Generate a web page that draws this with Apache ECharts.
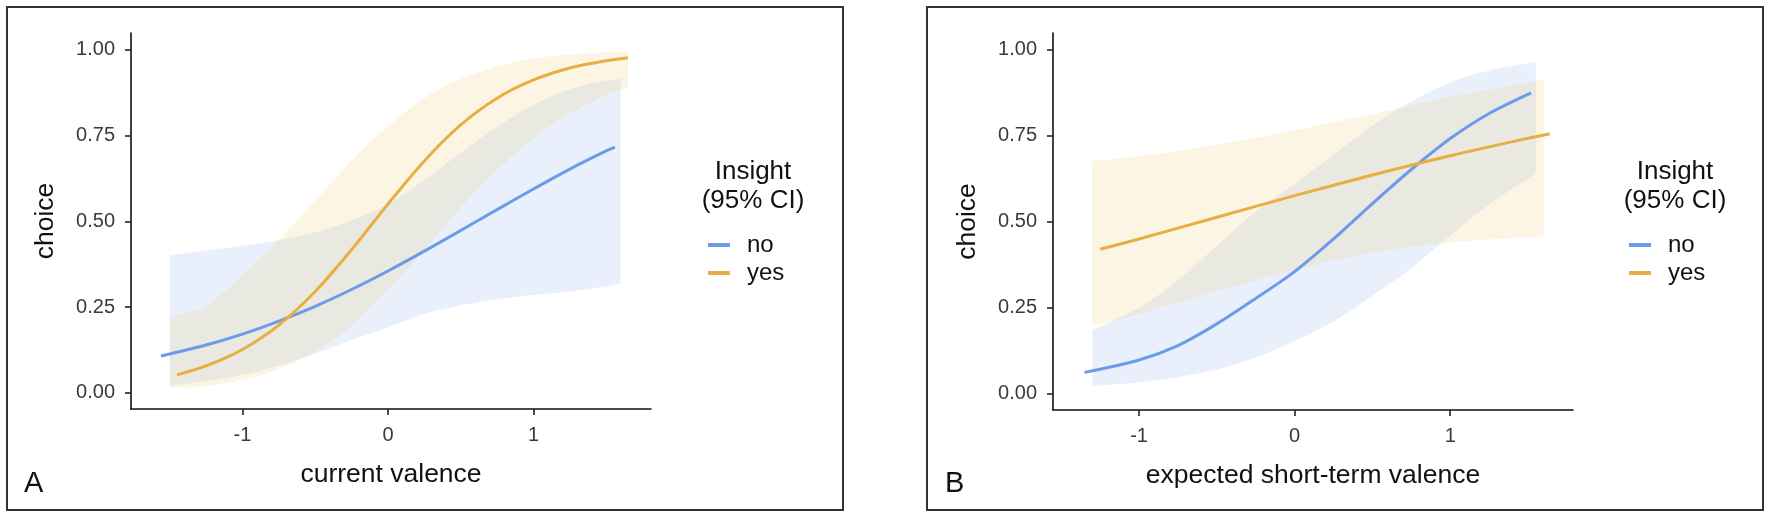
<!DOCTYPE html>
<html>
<head>
<meta charset="utf-8">
<script src="https://cdn.jsdelivr.net/npm/echarts@6/dist/echarts.min.js"></script>
<style>
html,body{margin:0;padding:0;background:#fff;}
#chart{width:1772px;height:518px;}
</style>
</head>
<body>
<div id="chart"></div>
<script>
// ---------- data ----------
var xTicks = [-1, 0, 1];
var yTicks = [0, 0.25, 0.5, 0.75, 1];
var legendItems = ['no', 'yes'];

// Panel A: current valence
var aNoLine = [[-1.56,0.107],[-1.25,0.139],[-1.0,0.171],[-0.75,0.209],[-0.5,0.252],[-0.25,0.301],[0,0.355],[0.25,0.413],[0.5,0.473],[0.75,0.534],[1.0,0.594],[1.25,0.652],[1.5,0.705],[1.56,0.716]];
var aYesLine = [[-1.45,0.052],[-1.25,0.078],[-1.0,0.126],[-0.75,0.197],[-0.5,0.295],[-0.25,0.417],[0,0.55],[0.25,0.676],[0.5,0.781],[0.75,0.859],[1.0,0.912],[1.25,0.947],[1.5,0.968],[1.65,0.977]];
var aNoBand = [[-1.5,0.02,0.40],[-1.25,0.034,0.415],[-1.0,0.052,0.428],[-0.75,0.079,0.445],[-0.5,0.114,0.468],[-0.25,0.154,0.502],[0,0.19,0.55],[0.25,0.23,0.62],[0.5,0.254,0.70],[0.75,0.272,0.775],[1.0,0.285,0.84],[1.25,0.295,0.885],[1.5,0.31,0.91],[1.6,0.319,0.915]];
var aYesBand = [[-1.5,0.013,0.22],[-1.25,0.02,0.254],[-1.0,0.038,0.342],[-0.75,0.069,0.446],[-0.5,0.121,0.56],[-0.25,0.197,0.676],[0,0.30,0.777],[0.25,0.417,0.859],[0.5,0.54,0.915],[0.75,0.649,0.952],[1.0,0.742,0.974],[1.25,0.814,0.986],[1.5,0.868,0.993],[1.65,0.89,0.995]];

// Panel B: expected short-term valence
var bNoLine = [[-1.35,0.062],[-1.0,0.098],[-0.75,0.14],[-0.5,0.203],[-0.25,0.277],[0,0.355],[0.25,0.45],[0.5,0.553],[0.75,0.652],[1.0,0.742],[1.25,0.815],[1.52,0.875]];
var bYesLine = [[-1.25,0.42],[-1.0,0.45],[-0.5,0.513],[0,0.576],[0.5,0.636],[1.0,0.692],[1.5,0.743],[1.64,0.756]];
var bNoBand = [[-1.3,0.022,0.185],[-1.0,0.033,0.25],[-0.75,0.048,0.33],[-0.5,0.07,0.43],[-0.25,0.105,0.53],[0,0.153,0.61],[0.25,0.21,0.695],[0.5,0.285,0.78],[0.75,0.365,0.85],[1.0,0.46,0.905],[1.25,0.55,0.94],[1.55,0.64,0.965]];
var bYesBand = [[-1.3,0.197,0.678],[-1.0,0.232,0.69],[-0.5,0.298,0.724],[0,0.36,0.766],[0.5,0.41,0.814],[1.0,0.44,0.863],[1.6,0.458,0.914]];

// ---------- styling ----------
var FONT = "'Liberation Sans', Arial, Helvetica, sans-serif";
var BLUE = '#6b9bea';
var ORANGE = '#e8ae44';
var BLUE_FILL = 'rgba(100,149,237,0.14)';
var ORANGE_FILL = 'rgba(238,174,50,0.13)';

// Catmull-Rom smoothing of an already projected pixel polyline (render-time only)
function smoothPx(p) {
  if (p.length < 3) return p;
  var out = [];
  for (var i = 0; i < p.length - 1; i++) {
    var p0 = p[Math.max(i - 1, 0)], p1 = p[i], p2 = p[i + 1], p3 = p[Math.min(i + 2, p.length - 1)];
    for (var s = 0; s < 8; s++) {
      var t = s / 8, t2 = t * t, t3 = t2 * t;
      out.push([
        0.5 * ((2 * p1[0]) + (-p0[0] + p2[0]) * t + (2 * p0[0] - 5 * p1[0] + 4 * p2[0] - p3[0]) * t2 + (-p0[0] + 3 * p1[0] - 3 * p2[0] + p3[0]) * t3),
        0.5 * ((2 * p1[1]) + (-p0[1] + p2[1]) * t + (2 * p0[1] - 5 * p1[1] + 4 * p2[1] - p3[1]) * t2 + (-p0[1] + 3 * p1[1] - 3 * p2[1] + p3[1]) * t3)
      ]);
    }
  }
  out.push(p[p.length - 1]);
  return out;
}

function bandSeries(rows, fill, gi) {
  return {
    type: 'custom',
    xAxisIndex: gi, yAxisIndex: gi,
    silent: true,
    data: rows,
    encode: {x: 0, y: [1, 2]},
    renderItem: function (params, api) {
      if (params.dataIndexInside !== 0) return null;
      var up = [], lo = [];
      for (var i = 0; i < rows.length; i++) {
        up.push(api.coord([rows[i][0], rows[i][2]]));
        lo.push(api.coord([rows[i][0], rows[i][1]]));
      }
      var pts = smoothPx(up).concat(smoothPx(lo).reverse());
      return {type: 'polygon', shape: {points: pts}, style: {fill: fill, stroke: null}};
    },
    z: 1
  };
}
function lineSeries(name, rows, color, gi) {
  return {
    type: 'line', name: name, xAxisIndex: gi, yAxisIndex: gi,
    data: rows, smooth: 0.3, symbol: 'none', color: color,
    lineStyle: {color: color, width: 3}, silent: true, z: 3
  };
}
function xAxisCfg(gi, min, max, name) {
  return {
    type: 'value', gridIndex: gi, min: min, max: max,
    name: name, nameLocation: 'middle', nameGap: 52,
    nameTextStyle: {fontFamily: FONT, fontSize: 26.5, color: '#111'},
    axisLine: {show: true, onZero: false, lineStyle: {color: '#111', width: 1.6}},
    axisTick: {show: true, length: 6, customValues: xTicks, lineStyle: {color: '#222', width: 1.6}},
    axisLabel: {customValues: xTicks, margin: 16, fontFamily: FONT, fontSize: 20, color: '#3a3a3a'},
    splitLine: {show: false}
  };
}
function yAxisCfg(gi) {
  return {
    type: 'value', gridIndex: gi, min: -0.0475, max: 1.049,
    name: 'choice', nameLocation: 'middle', nameGap: 72, nameRotate: 90,
    nameTextStyle: {fontFamily: FONT, fontSize: 26.5, color: '#111'},
    axisLine: {show: true, onZero: false, lineStyle: {color: '#111', width: 1.6}},
    axisTick: {show: true, length: 6, customValues: yTicks, lineStyle: {color: '#222', width: 1.6}},
    axisLabel: {customValues: yTicks, margin: 16, fontFamily: FONT, fontSize: 20, color: '#3a3a3a',
      formatter: function (v) { return Number(v).toFixed(2); }},
    splitLine: {show: false}
  };
}
function legendCfg(left) {
  return {
    data: legendItems, orient: 'vertical', left: left, top: 228,
    icon: 'rect', itemWidth: 22, itemHeight: 4, itemGap: 4,
    selectedMode: false,
    textStyle: {fontFamily: FONT, fontSize: 24, color: '#111', lineHeight: 24, padding: [0, 0, 0, 12]}
  };
}
function txt(text, x, y, size, align, lh) {
  return {type: 'text', silent: true, z: 10,
    style: {text: text, x: x, y: y, fill: '#111', font: size + 'px ' + FONT,
      textAlign: align, align: align, textVerticalAlign: 'top', verticalAlign: 'top', lineHeight: lh || size}};
}

var chart = echarts.init(document.getElementById('chart'), null, {renderer: 'canvas'});
chart.setOption({
  backgroundColor: '#ffffff',
  animation: false,
  grid: [
    {left: 131, top: 33, width: 520, height: 376},
    {left: 1053, top: 33, width: 520, height: 377}
  ],
  xAxis: [xAxisCfg(0, -1.766, 1.808, 'current valence'), xAxisCfg(1, -1.553, 1.789, 'expected short-term valence')],
  yAxis: [yAxisCfg(0), yAxisCfg(1)],
  legend: [legendCfg(703), legendCfg(1624)],
  series: [
    bandSeries(aNoBand, BLUE_FILL, 0),
    bandSeries(aYesBand, ORANGE_FILL, 0),
    lineSeries('no', aNoLine, BLUE, 0),
    lineSeries('yes', aYesLine, ORANGE, 0),
    bandSeries(bNoBand, BLUE_FILL, 1),
    bandSeries(bYesBand, ORANGE_FILL, 1),
    lineSeries('no', bNoLine, BLUE, 1),
    lineSeries('yes', bYesLine, ORANGE, 1)
  ],
  graphic: [
    {type: 'rect', silent: true, shape: {x: 7, y: 7, width: 836, height: 503}, style: {fill: 'none', stroke: '#333', lineWidth: 2}},
    {type: 'rect', silent: true, shape: {x: 927, y: 7, width: 836, height: 503}, style: {fill: 'none', stroke: '#333', lineWidth: 2}},
    txt('Insight\n(95% CI)', 753, 157, 26, 'center', 29),
    txt('Insight\n(95% CI)', 1675, 157, 26, 'center', 29),
    txt('A', 24, 469, 29, 'left'),
    txt('B', 945, 469, 29, 'left')
  ]
});
</script>
</body>
</html>
